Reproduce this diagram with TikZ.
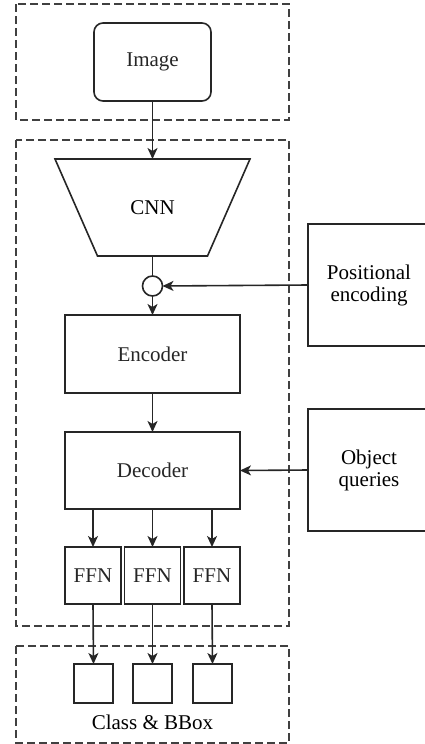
\documentclass[tikz,border=0pt]{standalone}
\usepackage{fontspec}
\setmainfont{Liberation Serif}
\usetikzlibrary{arrows.meta}
\begin{document}
\begin{tikzpicture}[x=1pt,y=-1pt,
  every node/.style={font=\fontsize{21}{25}\selectfont, inner sep=0pt, outer sep=0pt},
  ln/.style={line width=1.6pt, black!85},
  arr/.style={ln, -{Stealth[length=11pt,width=10pt,inset=3pt]}},
  grp/.style={line width=1.5pt, black!75, dash pattern=on 8pt off 4pt},
  blk/.style={draw, ln, rectangle, align=center},
]
\useasboundingbox (0,0) rectangle (425,744);
% group frames
\draw[grp] (16,4) rectangle (289,120);
\draw[grp] (16,140) rectangle (289,626);
\draw[grp] (16,646) rectangle (289,743);
% image
\node[blk, rounded corners=9pt, minimum width=117pt, minimum height=78pt] (img) at (152.5,62) {Image};
% CNN
\node[minimum width=195pt, minimum height=97pt] (cnn) at (152.5,207.5) {CNN};
\draw[ln, line join=miter] (cnn.north west) -- (cnn.north east) -- ([xshift=-42.5pt]cnn.south east) -- ([xshift=42.5pt]cnn.south west) -- cycle;
% circle
\node[draw, ln, circle, minimum size=20pt] (sum) at (152.5,286) {};
% positional encoding (cut at the right edge)
\node[minimum width=122pt, minimum height=122pt, align=center] (pe) at (369,285) {Positional\\[-3pt]encoding};
\draw[ln] (pe.north east) -- (pe.north west) -- (pe.south west) -- (pe.south east);
% encoder / decoder
\node[blk, minimum width=175pt, minimum height=78pt] (enc) at (152.5,354) {Encoder};
\node[blk, minimum width=175pt, minimum height=77pt] (dec) at (152.5,470.5) {Decoder};
% object queries
\node[minimum width=122pt, minimum height=122pt, align=center] (oq) at (369,470) {Object\\[-3pt]queries};
\draw[ln] (oq.north east) -- (oq.north west) -- (oq.south west) -- (oq.south east);
% FFNs
\node[blk, minimum width=56pt, minimum height=57pt] (f1) at (93,575.5) {FFN};
\node[blk, minimum width=56pt, minimum height=57pt] (f2) at (152.5,575.5) {FFN};
\node[blk, minimum width=56pt, minimum height=57pt] (f3) at (212,575.5) {FFN};
% outputs
\node[blk, minimum width=39pt, minimum height=39pt] (o1) at (93.5,683.5) {};
\node[blk, minimum width=39pt, minimum height=39pt] (o2) at (152.5,683.5) {};
\node[blk, minimum width=39pt, minimum height=39pt] (o3) at (212.5,683.5) {};
\node (lbl) at (152.5,722) {Class \& BBox};
% connectors
\draw[arr] (img.south) -- (cnn.north);
\draw[ln] (cnn.south) -- (sum.north);
\draw[arr] (pe.west) -- (sum.east);
\draw[arr] (sum.south) -- (enc.north);
\draw[arr] (enc.south) -- (dec.north);
\draw[arr] (oq.west) -- (dec.east);
\draw[arr] (f1.north |- dec.south) -- (f1.north);
\draw[arr] (dec.south) -- (f2.north);
\draw[arr] (f3.north |- dec.south) -- (f3.north);
\draw[arr] (f1.south) -- (o1.north);
\draw[arr] (f2.south) -- (o2.north);
\draw[arr] (f3.south) -- (o3.north);
\end{tikzpicture}
\end{document}
